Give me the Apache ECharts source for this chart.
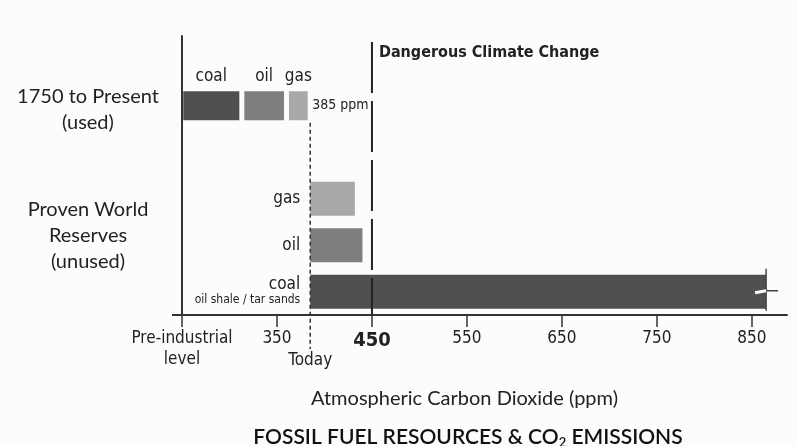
<!DOCTYPE html>
<html>
<head>
<meta charset="utf-8">
<script src="https://cdn.jsdelivr.net/npm/echarts@6/dist/echarts.min.js"></script>
<style>
html,body{margin:0;padding:0;background:#fcfcfc;}
#c{width:798px;height:446px;}
</style>
</head>
<body>
<div id="c"></div>
<script>
// ---- data ----
const categories = ['Reserves coal', 'Reserves oil', 'Reserves gas', 'Gap', 'Used', 'Top'];
const fuels = ['coal', 'oil', 'gas'];
const usedLevelAfter = [313, 360, 385];      // CO2 level (ppm) reached after coal, oil, gas use
const reserveLevelIfBurned = [865, 440, 432]; // level reached burning each reserve (coal, oil, gas)
const todayPpm = 385;
const dangerPpm = 450;
const tickValues = [250, 350, 450, 550, 650, 750, 850];
const tickLabels = ['Pre-industrial\nlevel', '350', '450', '550', '650', '750', '850'];
const reserveRows = ['Reserves coal', 'Reserves oil', 'Reserves gas'];
const reserveSubLabels = ['oil shale / tar sands', '', ''];

const COND = "'Liberation Sans Narrow','DejaVu Sans Condensed','Roboto',sans-serif";
const REG = "Lato,'Open Sans',sans-serif";
const colors = ['#505050', '#7e7e7e', '#a9a9a9'];
const TXT = '#222';
const BG = '#fcfcfc';

const chart = echarts.init(document.getElementById('c'));

const usedRow = categories.indexOf('Used');
const base = categories.map(c => reserveRows.includes(c) ? todayPpm : null);

const fuelSeries = fuels.map((f, i) => {
  const data = categories.map(() => null);
  const prev = i === 0 ? 0 : usedLevelAfter[i - 1];
  data[usedRow] = {
    value: usedLevelAfter[i] - prev,
    itemStyle: { borderColor: BG, borderWidth: 2.5 },
    label: { show: true, position: 'top', distance: 4, formatter: f,
      fontFamily: COND, fontSize: 17, color: TXT }
  };
  const r = categories.indexOf(reserveRows[i]);
  const sub = reserveSubLabels[i];
  data[r] = {
    value: reserveLevelIfBurned[i] - todayPpm,
    label: { show: true, position: 'left', distance: 10,
      formatter: sub ? '{a|' + f + '}\n{b|' + sub + '}' : '{a|' + f + '}',
      rich: {
        a: { fontFamily: COND, fontSize: 17, color: TXT, align: 'right', lineHeight: 17 },
        b: { fontFamily: COND, fontSize: 12, color: TXT, align: 'right', lineHeight: 15 }
      }
    }
  };
  const s = {
    name: f, type: 'bar', stack: 'co2', barWidth: 34,
    itemStyle: { color: colors[i] }, data: data, z: 3
  };
  if (f === 'gas') {
    s.markPoint = {
      symbol: 'circle', symbolSize: 0,
      data: [{ coord: [todayPpm, 'Used'] }],
      label: { show: true, position: 'right', distance: 2, formatter: todayPpm + ' ppm',
        fontFamily: COND, fontSize: 14, color: TXT }
    };
  }
  return s;
});

const yLabelMap = {
  'Used': '{e| }\n1750 to Present\n(used)',
  'Reserves oil': 'Proven World\nReserves\n(unused)\n{f| }'
};

chart.setOption({
  backgroundColor: BG,
  animation: false,
  title: {
    text: '{t|FOSSIL FUEL RESOURCES & CO}{s|2}{t| EMISSIONS}',
    left: 463, top: 421, textAlign: 'center',
    textStyle: {
      rich: {
        t: { fontFamily: REG, fontSize: 21, fontWeight: 600, color: '#111' },
        s: { fontFamily: REG, fontSize: 13, fontWeight: 600, color: '#111', padding: [10, 0, 0, 0] }
      }
    }
  },
  grid: { left: 182, right: 11, top: 36, bottom: 131 },
  xAxis: {
    type: 'value', min: 250, max: 887, interval: 100,
    name: 'Atmospheric Carbon Dioxide (ppm)', nameLocation: 'middle', nameGap: 74,
    nameTextStyle: { fontFamily: REG, fontSize: 20, color: TXT, padding: [0, 40, 0, 0] },
    axisLine: { show: true, lineStyle: { color: '#333', width: 2 } },
    axisTick: { show: true, customValues: tickValues, length: 12, lineStyle: { color: '#333', width: 1.5 } },
    axisLabel: {
      customValues: tickValues, margin: 13,
      formatter: v => {
        const i = tickValues.indexOf(v);
        if (i < 0) return '';
        return v === dangerPpm ? '{b|' + tickLabels[i] + '}' : tickLabels[i];
      },
      fontFamily: COND, fontSize: 17, color: TXT, lineHeight: 21,
      rich: { b: { fontFamily: COND, fontSize: 20, fontWeight: 'bold', color: TXT, lineHeight: 26 } }
    },
    splitLine: { show: false },
    z: 5
  },
  yAxis: {
    type: 'category', data: categories, z: 5,
    axisLine: { show: true, lineStyle: { color: '#333', width: 2 } },
    axisTick: { show: false },
    axisLabel: {
      interval: 0, align: 'center', margin: 94,
      formatter: v => yLabelMap[v] || '',
      fontFamily: REG, fontSize: 20, color: TXT, lineHeight: 26,
      rich: { e: { lineHeight: 8, fontSize: 8 }, f: { lineHeight: 20, fontSize: 8 } }
    }
  },
  series: [{
    name: 'base', type: 'bar', stack: 'co2', barWidth: 34,
    itemStyle: { color: 'rgba(0,0,0,0)' }, data: base, silent: true
  }].concat(fuelSeries)
});

// decorations positioned through the axes
function drawGraphics() {
  const px = v => chart.convertToPixel({ xAxisIndex: 0 }, v);
  const py = c => chart.convertToPixel({ yAxisIndex: 0 }, c);
  const grid = chart.getModel().getComponent('grid').coordinateSystem.getRect();
  const axisY = grid.y + grid.height;
  const xToday = px(todayPpm);
  const xDanger = px(dangerPpm);
  const yUsed = py('Used');
  const yCoal = py('Reserves coal');
  const xBreak = px(reserveLevelIfBurned[0]);
  chart.setOption({
    graphic: [
      { type: 'line', z: 10, shape: { x1: xToday, y1: yUsed + 17, x2: xToday, y2: axisY + 34 },
        style: { stroke: '#333', lineWidth: 1.5, lineDash: [4, 3] } },
      { type: 'line', z: 10, shape: { x1: xDanger, y1: grid.y + 6, x2: xDanger, y2: axisY },
        style: { stroke: '#222', lineWidth: 2, lineDash: [51, 8] } },
      { type: 'text', z: 10, x: xDanger + 7, y: grid.y + 17,
        style: { text: 'Dangerous Climate Change', fontFamily: COND, fontSize: 16, fontWeight: 'bold',
          fill: TXT, verticalAlign: 'middle' } },
      { type: 'text', z: 10, x: xToday, y: axisY + 46,
        style: { text: 'Today', fontFamily: COND, fontSize: 17, fill: TXT, align: 'center', verticalAlign: 'middle' } },
      { type: 'line', z: 10, shape: { x1: xBreak, y1: yCoal - 23, x2: xBreak, y2: yCoal + 19 },
        style: { stroke: '#444', lineWidth: 1.5 } },
      { type: 'line', z: 11, shape: { x1: xBreak - 11, y1: yCoal + 1, x2: xBreak, y2: yCoal - 1 },
        style: { stroke: BG, lineWidth: 3 } },
      { type: 'line', z: 11, shape: { x1: xBreak, y1: yCoal - 1, x2: xBreak + 12, y2: yCoal - 1 },
        style: { stroke: '#444', lineWidth: 1.5 } },
      { type: 'line', z: 9, shape: { x1: grid.x - 10, y1: axisY, x2: grid.x, y2: axisY },
        style: { stroke: '#333', lineWidth: 2 } }
    ]
  });
}
drawGraphics();
</script>
</body>
</html>
